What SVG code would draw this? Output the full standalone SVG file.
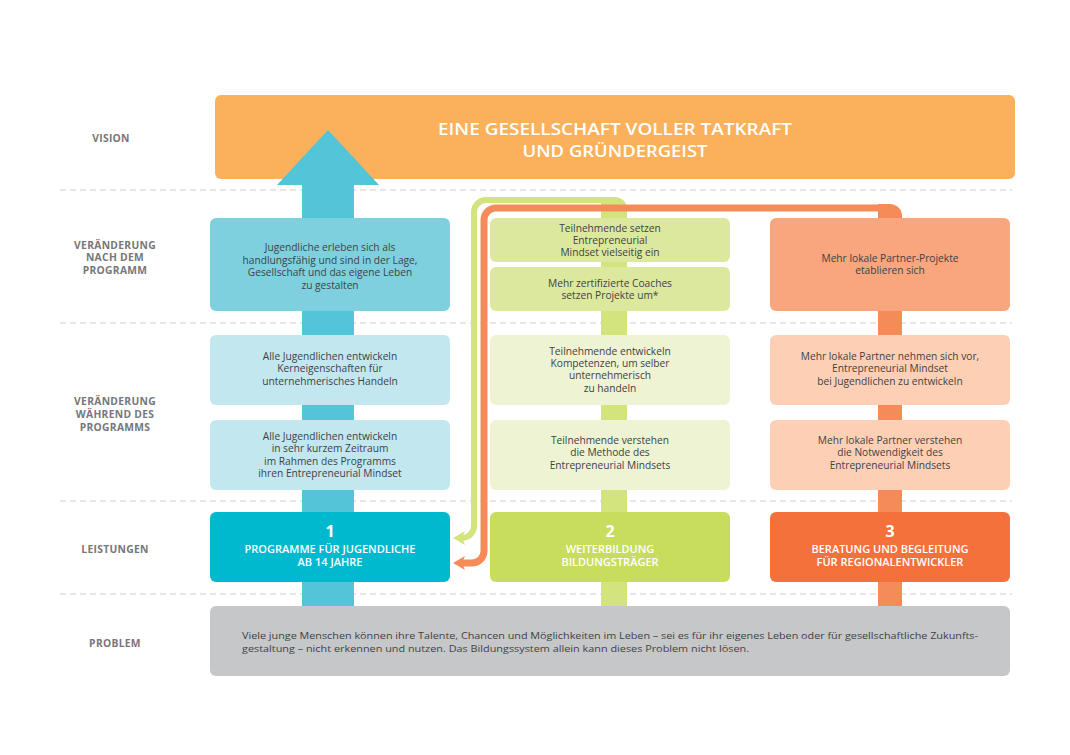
<svg xmlns="http://www.w3.org/2000/svg" width="1070" height="755" viewBox="0 0 1070 755">
<style>
.lbl{font-family:"Open Sans","Liberation Sans",sans-serif;font-weight:700;font-size:10.3px;fill:#76777a;text-anchor:middle;letter-spacing:0.3px}
.t{font-family:"Open Sans","Liberation Sans",sans-serif;font-size:10.2px;fill:#3f4245;text-anchor:middle}
.w{font-family:"Open Sans","Liberation Sans",sans-serif;font-weight:600;font-size:11px;fill:#ffffff;text-anchor:middle}
.num{font-family:"Open Sans","Liberation Sans",sans-serif;font-weight:700;font-size:16px;fill:#ffffff;text-anchor:middle}
.vt{font-family:"Open Sans","Liberation Sans",sans-serif;font-weight:600;font-size:16.5px;fill:#ffffff;text-anchor:middle}
.dash{stroke:#cfd0d2;stroke-width:1.2;stroke-dasharray:6 4;fill:none}
</style>
<defs>
<marker id="ag" markerUnits="userSpaceOnUse" markerWidth="14" markerHeight="16" viewBox="0 0 14 16" refX="3" refY="8" orient="auto">
<path d="M0,1 L12,8 L0,15 L3,8 Z" fill="#d3e47e"/>
</marker>
<marker id="ao" markerUnits="userSpaceOnUse" markerWidth="14" markerHeight="16" viewBox="0 0 14 16" refX="3" refY="8" orient="auto">
<path d="M0,1 L12,8 L0,15 L3,8 Z" fill="#f68b5a"/>
</marker>
</defs>
<rect width="1070" height="755" fill="#ffffff"/>
<g id="grid">
<line class="dash" x1="60" y1="190" x2="1012" y2="190"/>
<line class="dash" x1="60" y1="323" x2="1012" y2="323"/>
<line class="dash" x1="60" y1="501" x2="1012" y2="501"/>
<line class="dash" x1="60" y1="594" x2="1012" y2="594"/>
</g>
<g id="row-labels">
<text class="lbl" x="111" y="142">VISION</text>
<text class="lbl" x="115" y="249">VERÄNDERUNG</text>
<text class="lbl" x="115" y="261">NACH DEM</text>
<text class="lbl" x="115" y="274">PROGRAMM</text>
<text class="lbl" x="115" y="405">VERÄNDERUNG</text>
<text class="lbl" x="115" y="418">WÄHREND DES</text>
<text class="lbl" x="115" y="431">PROGRAMMS</text>
<text class="lbl" x="115" y="553">LEISTUNGEN</text>
<text class="lbl" x="115" y="647">PROBLEM</text>
</g>
<g id="vision">
<rect x="215" y="95" width="800" height="84" rx="6" fill="#fbb15b"/>
<text class="vt" x="615" y="135" textLength="354" lengthAdjust="spacingAndGlyphs">EINE GESELLSCHAFT VOLLER TATKRAFT</text>
<text class="vt" x="615" y="157" textLength="185" lengthAdjust="spacingAndGlyphs">UND GRÜNDERGEIST</text>
</g>
<g id="connectors">
<path id="blue-arrow" d="M302,606 V185 H277 L328,130 L379,185 H354 V606 Z" fill="#52c5d8"/>
<path id="green-bar" d="M601,606 V197 H615 A12,12 0 0 1 627,209 V606 Z" fill="#d3e47e"/>
<path id="green-loop" d="M606,200 H486 A12,12 0 0 0 474,212 V526 A12,12 0 0 1 462,538" fill="none" stroke="#d3e47e" stroke-width="6" marker-end="url(#ag)"/>
<path id="orange-bar" d="M878,606 V204 H890 A12,12 0 0 1 902,216 V606 Z" fill="#f68b5a"/>
<path id="orange-loop" d="M884,208 H496 A12,12 0 0 0 484,220 V551 A12,12 0 0 1 472,563 H462" fill="none" stroke="#f68b5a" stroke-width="7" marker-end="url(#ao)"/>
</g>
<g id="b1-after">
<rect x="210" y="218" width="240" height="93" rx="6" fill="#7fd0de"/>
<text class="t" x="330" y="251">Jugendliche erleben sich als</text>
<text class="t" x="330" y="264">handlungsfähig und sind in der Lage,</text>
<text class="t" x="330" y="276">Gesellschaft und das eigene Leben</text>
<text class="t" x="330" y="289">zu gestalten</text>
</g>
<g id="b1-during1">
<rect x="210" y="335" width="240" height="70" rx="6" fill="#c2e7ee"/>
<text class="t" x="330" y="360">Alle Jugendlichen entwickeln</text>
<text class="t" x="330" y="372">Kerneigenschaften für</text>
<text class="t" x="330" y="385">unternehmerisches Handeln</text>
</g>
<g id="b1-during2">
<rect x="210" y="420" width="240" height="70" rx="6" fill="#c2e7ee"/>
<text class="t" x="330" y="440">Alle Jugendlichen entwickeln</text>
<text class="t" x="330" y="452">in sehr kurzem Zeitraum</text>
<text class="t" x="330" y="465">im Rahmen des Programms</text>
<text class="t" x="330" y="477">ihren Entrepreneurial Mindset</text>
</g>
<g id="b1-service">
<rect x="210" y="512" width="240" height="70" rx="6" fill="#00b9ce"/>
<text class="num" x="330" y="537">1</text>
<text class="w" x="330" y="553">PROGRAMME FÜR JUGENDLICHE</text>
<text class="w" x="330" y="566">AB 14 JAHRE</text>
</g>
<g id="b2-after1">
<rect x="490" y="218" width="240" height="44" rx="6" fill="#dde89f"/>
<text class="t" x="610" y="232">Teilnehmende setzen</text>
<text class="t" x="610" y="244">Entrepreneurial</text>
<text class="t" x="610" y="256">Mindset vielseitig ein</text>
</g>
<g id="b2-after2">
<rect x="490" y="267" width="240" height="44" rx="6" fill="#dde89f"/>
<text class="t" x="610" y="287">Mehr zertifizierte Coaches</text>
<text class="t" x="610" y="299">setzen Projekte um*</text>
</g>
<g id="b2-during1">
<rect x="490" y="335" width="240" height="70" rx="6" fill="#eef3d3"/>
<text class="t" x="610" y="355">Teilnehmende entwickeln</text>
<text class="t" x="610" y="367">Kompetenzen, um selber</text>
<text class="t" x="610" y="379">unternehmerisch</text>
<text class="t" x="610" y="392">zu handeln</text>
</g>
<g id="b2-during2">
<rect x="490" y="420" width="240" height="70" rx="6" fill="#eef3d3"/>
<text class="t" x="610" y="444">Teilnehmende verstehen</text>
<text class="t" x="610" y="456">die Methode des</text>
<text class="t" x="610" y="469">Entrepreneurial Mindsets</text>
</g>
<g id="b2-service">
<rect x="490" y="512" width="240" height="70" rx="6" fill="#c8dc5e"/>
<text class="num" x="610" y="537">2</text>
<text class="w" x="610" y="553">WEITERBILDUNG</text>
<text class="w" x="610" y="566">BILDUNGSTRÄGER</text>
</g>
<g id="b3-after">
<rect x="770" y="218" width="240" height="93" rx="6" fill="#f9a57e"/>
<text class="t" x="890" y="262">Mehr lokale Partner-Projekte</text>
<text class="t" x="890" y="274">etablieren sich</text>
</g>
<g id="b3-during1">
<rect x="770" y="335" width="240" height="70" rx="6" fill="#fdd0b5"/>
<text class="t" x="890" y="360">Mehr lokale Partner nehmen sich vor,</text>
<text class="t" x="890" y="372">Entrepreneurial Mindset</text>
<text class="t" x="890" y="385">bei Jugendlichen zu entwickeln</text>
</g>
<g id="b3-during2">
<rect x="770" y="420" width="240" height="70" rx="6" fill="#fdd0b5"/>
<text class="t" x="890" y="444">Mehr lokale Partner verstehen</text>
<text class="t" x="890" y="456">die Notwendigkeit des</text>
<text class="t" x="890" y="469">Entrepreneurial Mindsets</text>
</g>
<g id="b3-service">
<rect x="770" y="512" width="240" height="70" rx="6" fill="#f4713b"/>
<text class="num" x="890" y="537">3</text>
<text class="w" x="890" y="553">BERATUNG UND BEGLEITUNG</text>
<text class="w" x="890" y="566">FÜR REGIONALENTWICKLER</text>
</g>
<g id="problem">
<rect x="210" y="606" width="800" height="70" rx="6" fill="#c6c7c9"/>
<text x="242" y="639" font-family="Open Sans, Liberation Sans, sans-serif" font-size="9.6" fill="#3f4245" textLength="736" lengthAdjust="spacingAndGlyphs">Viele junge Menschen können ihre Talente, Chancen und Möglichkeiten im Leben – sei es für ihr eigenes Leben oder für gesellschaftliche Zukunfts-</text>
<text x="242" y="652" font-family="Open Sans, Liberation Sans, sans-serif" font-size="9.6" fill="#3f4245" textLength="507" lengthAdjust="spacingAndGlyphs">gestaltung – nicht erkennen und nutzen. Das Bildungssystem allein kann dieses Problem nicht lösen.</text>
</g>
</svg>
